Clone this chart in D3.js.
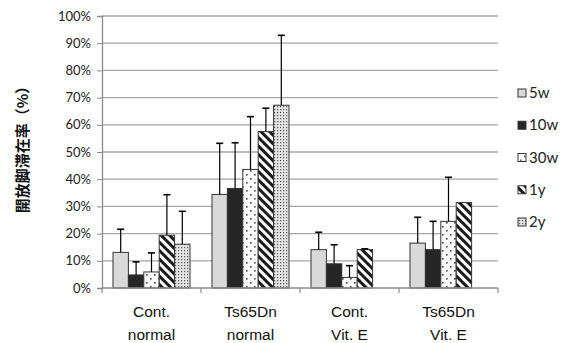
<!DOCTYPE html>
<html><head><meta charset="utf-8">
<script src="https://cdn.jsdelivr.net/npm/d3@7"></script>
<style>body{margin:0;background:#fff}svg{display:block}</style>
</head><body>
<script>
const categories = [["Cont.","normal"],["Ts65Dn","normal"],["Cont.","Vit. E"],["Ts65Dn","Vit. E"]];
const seriesNames = ["5w","10w","30w","1y","2y"];
const v5w  = [13.1, 34.4, 14.1, 16.5];
const v10w = [4.8, 36.6, 8.9, 14.1];
const v30w = [5.9, 43.6, 3.9, 24.5];
const v1y  = [19.4, 57.5, 14.1, 31.4];
const v2y  = [16.1, 67.2, null, null];
const e5w  = [8.5, 18.8, 6.4, 9.5];
const e10w = [4.8, 16.8, 7.0, 10.4];
const e30w = [7.0, 19.4, 4.3, 16.2];
const e1y  = [14.9, 8.6, 0.3, null];
const e2y  = [12.1, 25.7, null, null];
const yTicks = [0,10,20,30,40,50,60,70,80,90,100];
const yTitle = "開放脚滞在率（%）";

const values = [v5w, v10w, v30w, v1y, v2y];
const errors = [e5w, e10w, e30w, e1y, e2y];

const W = 562, H = 343;
const svg = d3.select("body").append("svg").attr("width", W).attr("height", H);
const defs = svg.append("defs");

// patterns
let p = defs.append("pattern").attr("id","p30w").attr("patternUnits","userSpaceOnUse").attr("width",8).attr("height",8);
p.append("rect").attr("width",8).attr("height",8).attr("fill","#fff");
p.append("rect").attr("x",2).attr("y",2).attr("width",1.6).attr("height",1.6).attr("fill","#444");
p.append("rect").attr("x",6).attr("y",6).attr("width",1.6).attr("height",1.6).attr("fill","#444");

p = defs.append("pattern").attr("id","p1y").attr("patternUnits","userSpaceOnUse").attr("width",6).attr("height",6).attr("patternTransform","rotate(-45)");
p.append("rect").attr("width",6).attr("height",6).attr("fill","#fff");
p.append("rect").attr("width",3).attr("height",6).attr("fill","#1a1a1a");

p = defs.append("pattern").attr("id","p2y").attr("patternUnits","userSpaceOnUse").attr("width",3).attr("height",3);
p.append("rect").attr("width",3).attr("height",3).attr("fill","#e4e4e4");
p.append("rect").attr("x",1).attr("y",1).attr("width",1.2).attr("height",1.2).attr("fill","#555");

const fills = ["#d9d9d9","#262626","url(#p30w)","url(#p1y)","url(#p2y)"];

const x0 = d3.scaleBand().domain(d3.range(categories.length)).range([102, 498]).padding(0);
const x1 = d3.scaleBand().domain(d3.range(seriesNames.length)).range([0, x0.bandwidth()]).paddingInner(0).paddingOuter(0.714);
const y = d3.scaleLinear().domain([0,100]).range([288, 16]);

// gridlines
svg.append("g").selectAll("line").data(yTicks.filter(d=>d>0)).join("line")
  .attr("x1",102).attr("x2",498).attr("y1",d=>y(d)).attr("y2",d=>y(d))
  .attr("stroke","#a6a6a6").attr("stroke-width",1.3);

// y axis
const yAxis = svg.append("g").attr("transform","translate(102,0)")
  .call(d3.axisLeft(y).tickValues(yTicks).tickFormat(d=>d+"%").tickSize(5).tickPadding(6));
yAxis.select(".domain").attr("stroke","#8c8c8c").attr("stroke-width",1.3);
yAxis.selectAll(".tick line").attr("stroke","#8c8c8c");
yAxis.selectAll("text").attr("font-family","Lato, 'Open Sans', sans-serif").attr("font-size",13).attr("fill","#222");

// bars
const barData = [];
values.forEach((arr, s) => arr.forEach((v, c) => { if (v != null) barData.push({s, c, v, e: errors[s][c]}); }));
const gBars = svg.append("g");
gBars.selectAll("rect").data(barData).join("rect")
  .attr("x", d => x0(d.c) + x1(d.s)).attr("width", x1.bandwidth())
  .attr("y", d => y(d.v)).attr("height", d => y(0) - y(d.v))
  .attr("fill", d => fills[d.s]).attr("stroke","#333").attr("stroke-width",1);

// error bars
const eb = barData.filter(d => d.e != null && d.e > 0);
const gErr = svg.append("g").attr("stroke","#000").attr("stroke-width",1.2);
gErr.selectAll("line.v").data(eb).join("line").attr("class","v")
  .attr("x1", d => x0(d.c) + x1(d.s) + x1.bandwidth()/2).attr("x2", d => x0(d.c) + x1(d.s) + x1.bandwidth()/2)
  .attr("y1", d => y(d.v)).attr("y2", d => y(d.v + d.e));
gErr.selectAll("line.c").data(eb).join("line").attr("class","c")
  .attr("x1", d => x0(d.c) + x1(d.s) + x1.bandwidth()/2 - 3.5).attr("x2", d => x0(d.c) + x1(d.s) + x1.bandwidth()/2 + 3.5)
  .attr("y1", d => y(d.v + d.e)).attr("y2", d => y(d.v + d.e)).attr("stroke-width",1.6);

// x axis
const gx = svg.append("g").attr("transform","translate(0,288)");
gx.append("line").attr("x1",102).attr("x2",498).attr("stroke","#8c8c8c").attr("stroke-width",1.3);
gx.selectAll("line.t").data(d3.range(categories.length+1)).join("line").attr("class","t")
  .attr("x1", i => i < categories.length ? x0(i) : 498).attr("x2", i => i < categories.length ? x0(i) : 498)
  .attr("y1",0).attr("y2",5).attr("stroke","#8c8c8c").attr("stroke-width",1.2);
const lab = gx.selectAll("text").data(categories).join("text")
  .attr("text-anchor","middle").attr("font-family","'Liberation Sans', Arial, sans-serif").attr("font-size",15.5).attr("fill","#111");
lab.append("tspan").attr("x",(d,i)=>x0(i)+x0.bandwidth()/2).attr("y",29).text(d=>d[0]);
lab.append("tspan").attr("x",(d,i)=>x0(i)+x0.bandwidth()/2).attr("y",52).text(d=>d[1]);

// y title
svg.append("text").attr("transform","translate(28,146) rotate(-90)")
  .attr("text-anchor","middle").attr("font-family","'Noto Sans CJK JP', sans-serif").attr("font-weight","bold")
  .attr("font-size",15).attr("fill","#111").text(yTitle);

// legend
const legY = d3.scalePoint().domain(seriesNames).range([93, 222]);
const leg = svg.append("g").selectAll("g").data(seriesNames).join("g")
  .attr("transform", d => `translate(518,${legY(d)})`);
leg.append("rect").attr("x",0).attr("y",-4).attr("width",8).attr("height",8)
  .attr("fill",(d,i)=>fills[i]).attr("stroke","#333").attr("stroke-width",1);
leg.append("text").attr("x",11).attr("y",5).attr("font-family","Lato, 'Open Sans', sans-serif").attr("font-size",15).attr("fill","#222").text(d=>d);
</script>
</body></html>
